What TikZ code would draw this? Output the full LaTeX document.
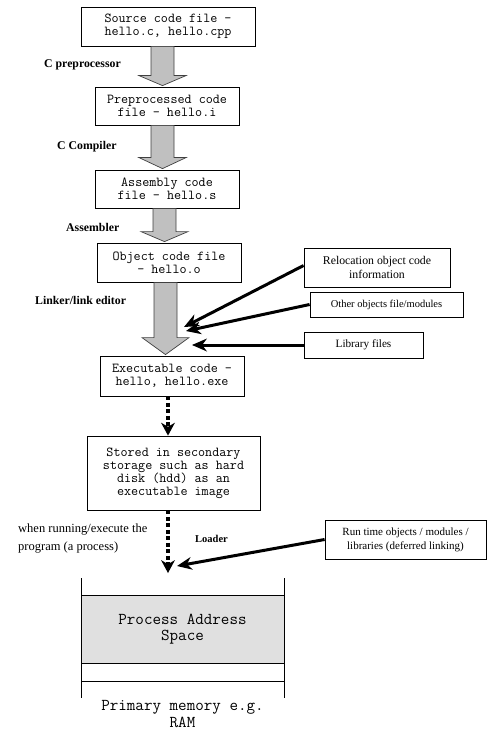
\documentclass[tikz,border=0pt]{standalone}
\usepackage{fontspec}
\setmainfont{Liberation Serif}
\usetikzlibrary{calc,arrows.meta}

% grey block arrow between two stages: #1 upper node, #2 lower node,
% #3 centre x of the arrow, #4 length of the head
\newcommand\fatarrow[4]{%
  \draw[fat] let \p1=(#1.south), \p2=(#2.north) in
    (#3pt-11.5pt,\y1) -- (#3pt+11.5pt,\y1) -- (#3pt+11.5pt,\y2+#4pt)
    -- (#3pt+23.5pt,\y2+#4pt) -- (#3pt,\y2+1pt) -- (#3pt-23.5pt,\y2+#4pt)
    -- (#3pt-11.5pt,\y2+#4pt) -- cycle;
}

\definecolor{arrowgrey}{HTML}{C0C0C0}
\definecolor{spacegrey}{HTML}{E0E0E0}

\tikzset{
  stagebox/.style={draw, line width=0.8pt, fill=white, align=center, inner sep=0pt,
    font=\ttfamily\fontsize{13.7}{13}\selectfont},
  sidebox/.style={draw, line width=0.8pt, fill=white, align=center, inner sep=0pt,
    font=\fontsize{10.5}{13.5}\selectfont},
  steplabel/.style={anchor=west, inner sep=0pt, font=\bfseries\fontsize{11.8}{12}\selectfont},
  fat/.style={fill=arrowgrey, draw=black!75, line width=0.7pt},
  feed/.style={line width=3pt, -{Stealth[length=15pt,width=13pt,line width=0pt]}},
  dashline/.style={line width=4.5pt, dash pattern=on 4pt off 2.5pt,
    -{Stealth[length=13pt,width=14pt,line width=0pt]}},
  memline/.style={line width=0.8pt},
}

\begin{document}
\begin{tikzpicture}[x=1pt,y=-1pt]
\useasboundingbox (0,0) rectangle (487,730);

% build stages
\node[stagebox, minimum width=174, minimum height=39] (src) at (168,26.5)
  {Source code file -\\hello.c, hello.cpp};
\node[stagebox, minimum width=144, minimum height=38] (pre) at (167,106)
  {Preprocessed code\\file - hello.i};
\node[stagebox, minimum width=144, minimum height=38] (asm) at (167,189)
  {Assembly code\\file - hello.s};
\node[stagebox, minimum width=144, minimum height=39] (obj) at (169,262.5)
  {Object code file\\- hello.o};
\node[stagebox, minimum width=144, minimum height=40] (exe) at (172,376)
  {Executable code -\\hello, hello.exe};
\node[stagebox, minimum width=173, minimum height=74] (disk) at (173.5,473)
  {Stored in secondary\\storage such as hard\\disk (hdd) as an\\executable image};

% tool labels
\node[steplabel] (lpre) at (44,65) {C preprocessor};
\node[steplabel] (lcc) at (57,147) {C Compiler};
\node[steplabel] (las) at (66,227) {Assembler};
\node[steplabel] (lld) at (35,300) {Linker/link editor};
\node[steplabel, font=\bfseries\fontsize{10.5}{12}\selectfont] (lload) at (195,539) {Loader};
\node[anchor=west, inner sep=0pt, align=left, font=\fontsize{12.5}{18}\selectfont] (lrun) at (18,539)
  {when running/execute the\\program (a process)};

% grey block arrows
\fatarrow{src}{pre}{162.5}{11}
\fatarrow{pre}{asm}{162.5}{12}
\fatarrow{asm}{obj}{164.5}{11}
\fatarrow{obj}{exe}{165.5}{18}

% extra inputs to the linker and loader
\node[sidebox, minimum width=146, minimum height=39, font=\fontsize{11.8}{13.5}\selectfont] (reloc) at (377,267.5)
  {Relocation object code\\information};
\node[sidebox, minimum width=153, minimum height=25] (other) at (386.5,304.5)
  {Other objects file/modules};
\node[sidebox, minimum width=119, minimum height=26, font=\fontsize{11.2}{13.5}\selectfont] (lib) at (363.5,345)
  {Library files};
\node[sidebox, minimum width=161, minimum height=39, font=\fontsize{11}{14}\selectfont] (rt) at (405.5,539.5)
  {Run time objects / modules /\\libraries (deferred linking)};

\coordinate (t1) at (184,327);
\coordinate (t2) at (186,331);
\coordinate (t3) at (192,345);
\coordinate (t4) at (177,566);
\draw[feed] ([yshift=2pt]reloc.west) -- (t1);
\draw[feed] (other.west) -- (t2);
\draw[feed] (lib.west) -- (t3);
\draw[feed] (rt.west) -- (t4);

% loading into memory
\coordinate (ld) at (168,573);
\draw[dashline] ([xshift=-4pt]exe.south) -- ([xshift=-5.5pt]disk.north);
\draw[dashline] ([xshift=-5.5pt]disk.south) -- (ld);

% primary memory
\node[draw, memline, fill=spacegrey, minimum width=203, minimum height=68, inner sep=0pt,
  align=center, font=\ttfamily\fontsize{16.6}{16.5}\selectfont] (pas) at (182.5,629)
  {Process Address\\Space};
\coordinate (mtl) at (81,578);
\coordinate (mbl) at (81,698);
\coordinate (mtr) at (284,578);
\coordinate (mbr) at (284,698);
\draw[memline] (mtl) -- (mbl);
\draw[memline] (mtr) -- (mbr);
\draw[memline] (81,681) -- (284,681);
\node[align=center, inner sep=0pt, font=\ttfamily\fontsize{16.6}{16.5}\selectfont] (ram) at (182.5,714)
  {Primary memory e.g.\\RAM};
\end{tikzpicture}
\end{document}
